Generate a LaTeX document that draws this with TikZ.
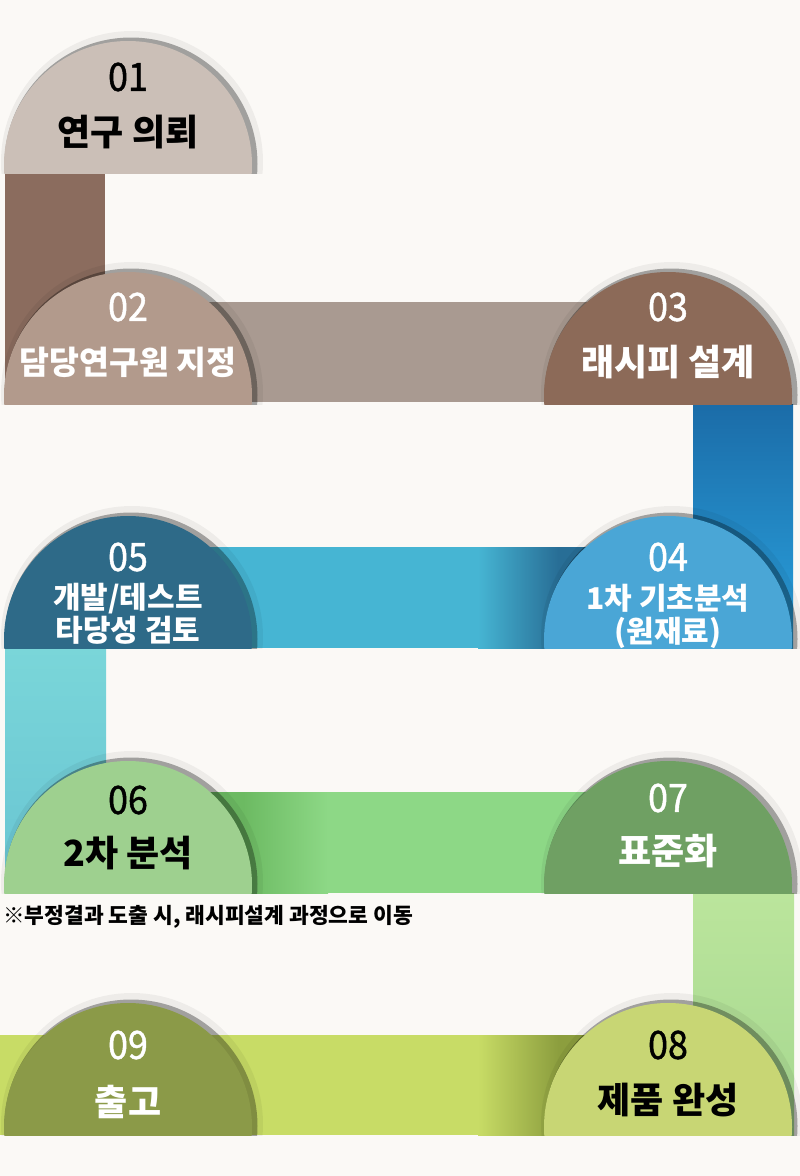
\documentclass[tikz,border=0pt]{standalone}
\usepackage{fontspec}
\setmainfont{Noto Sans CJK KR}
\newfontfamily\numfont[FakeBold=1.2,FakeStretch=0.92]{Noto Sans CJK KR}
\usetikzlibrary{calc}

\definecolor{paper}{RGB}{251,249,246}
\definecolor{domeA}{RGB}{203,191,183}
\definecolor{domeB}{RGB}{178,154,140}
\definecolor{domeC}{RGB}{140,106,88}
\definecolor{domeD}{RGB}{74,166,214}
\definecolor{domeE}{RGB}{46,106,136}
\definecolor{domeF}{RGB}{158,208,143}
\definecolor{domeG}{RGB}{111,160,99}
\definecolor{domeH}{RGB}{200,214,116}
\definecolor{domeI}{RGB}{139,154,72}
\definecolor{barA}{RGB}{139,108,94}
\definecolor{barB}{RGB}{169,154,145}
\definecolor{barCt}{RGB}{27,108,168}
\definecolor{barCb}{RGB}{42,162,222}
\definecolor{barD}{RGB}{70,181,211}
\definecolor{barDd}{RGB}{40,110,150}
\definecolor{barEt}{RGB}{122,214,217}
\definecolor{barEb}{RGB}{104,196,210}
\definecolor{barF}{RGB}{141,216,134}
\definecolor{barFd}{RGB}{108,186,98}
\definecolor{barGt}{RGB}{187,229,156}
\definecolor{barGb}{RGB}{165,215,143}
\definecolor{barH}{RGB}{200,220,102}
\definecolor{barHd}{RGB}{140,158,62}

% 반원 + 그림자
\newcommand{\dome}[2]{%
  \begin{scope}
    \clip ($(#1)+(-140,0)$) rectangle ($(#1)+(140,-160)$);
    \fill[black, opacity=.05] ($(#1)+(4,-11)$) circle (131);
    \fill[black, opacity=.32] ($(#1)+(3,-9)$) circle (126.5);
    \fill[#2] ($(#1)+(0,-8)$) circle (124);
  \end{scope}}

\begin{document}
\begin{tikzpicture}[x=1pt,y=-1pt,
  num/.style={font=\numfont\fontsize{39}{39}\selectfont, inner sep=0pt},
  lab/.style={font=\bfseries\fontsize{36}{36}\selectfont, inner sep=0pt},
  labsmall/.style={font=\bfseries\fontsize{30}{33}\selectfont, align=center, inner sep=0pt},
  memo/.style={font=\bfseries\fontsize{21.5}{22}\selectfont, inner sep=0pt, anchor=west}]

  \fill[paper] (0,0) rectangle (800,1176);
  \useasboundingbox (0,0) rectangle (800,1176);

  % 반원 밑변 중심
  \coordinate (d1) at (128,173);
  \coordinate (d2) at (128,404);
  \coordinate (d3) at (668,404);
  \coordinate (d4) at (668,648);
  \coordinate (d5) at (128,648);
  \coordinate (d6) at (128,893);
  \coordinate (d7) at (668,893);
  \coordinate (d8) at (668,1135);
  \coordinate (d9) at (128,1135);

  % 연결 띠
  \fill[barA] ($(d1)+(-123,0)$) rectangle ($(d2)+(-23,0)$);
  \fill[barB] ($(d2)+(0,-2)$) rectangle ($(d3)+(0,-102)$);
  \shade[top color=barCt, bottom color=barCb]
    ($(d3)+(25,0)$) rectangle ($(d4)+(125,0)$);
  \fill[barD] (d5) rectangle ($(d4)+(0,-101)$);
  \shade[left color=barD, right color=barDd]
    ($(d4)+(-190,0)$) rectangle ($(d4)+(-110,-101)$);
  \fill[barDd] ($(d4)+(-110,0)$) rectangle ($(d4)+(0,-101)$);
  \shade[top color=barEt, bottom color=barEb]
    ($(d5)+(-123,0)$) rectangle ($(d6)+(-22,0)$);
  \fill[barF] (d6) rectangle ($(d7)+(0,-101)$);
  \fill[barFd] (d6) rectangle ($(d6)+(115,-101)$);
  \shade[left color=barFd, right color=barF]
    ($(d6)+(115,0)$) rectangle ($(d6)+(200,-101)$);
  \shade[top color=barGt, bottom color=barGb]
    ($(d7)+(25,0)$) rectangle ($(d8)+(126,0)$);
  \fill[barH] ($(d9)+(-128,0)$) rectangle ($(d8)+(0,-100)$);
  \shade[left color=barH, right color=barHd]
    ($(d8)+(-190,0)$) rectangle ($(d8)+(-110,-100)$);
  \fill[barHd] ($(d8)+(-110,0)$) rectangle ($(d8)+(0,-100)$);

  % 단계
  \dome{d1}{domeA}
  \dome{d2}{domeB}
  \dome{d3}{domeC}
  \dome{d4}{domeD}
  \dome{d5}{domeE}
  \dome{d6}{domeF}
  \dome{d7}{domeG}
  \dome{d8}{domeH}
  \dome{d9}{domeI}

  \node[num, text=black] (n1) at ($(d1)+(0,-96)$) {01};
  \node[lab, text=black] (t1) at ($(d1)+(0,-41)$) {연구 의뢰};
  \node[num, text=white] (n2) at ($(d2)+(0,-97)$) {02};
  \node[lab, text=white, font=\bfseries\fontsize{32.5}{33}\selectfont] (t2) at ($(d2)+(0,-42)$) {담당연구원 지정};
  \node[num, text=white] (n3) at ($(d3)+(0,-97)$) {03};
  \node[lab, text=white] (t3) at ($(d3)+(0,-42)$) {래시피 설계};
  \node[num, text=white] (n4) at ($(d4)+(0,-91)$) {04};
  \node[labsmall, text=white] (t4) at ($(d4)+(0,-32)$) {1차 기초분석\\(원재료)};
  \node[num, text=white] (n5) at ($(d5)+(0,-91)$) {05};
  \node[labsmall, text=white] (t5) at ($(d5)+(0,-34)$) {개발/테스트\\타당성 검토};
  \node[num, text=black] (n6) at ($(d6)+(0,-93)$) {06};
  \node[lab, text=black] (t6) at ($(d6)+(0,-40)$) {2차 분석};
  \node[num, text=white] (n7) at ($(d7)+(0,-95)$) {07};
  \node[lab, text=white] (t7) at ($(d7)+(0,-42)$) {표준화};
  \node[num, text=black] (n8) at ($(d8)+(0,-90)$) {08};
  \node[lab, text=black] (t8) at ($(d8)+(0,-35)$) {제품 완성};
  \node[num, text=white] (n9) at ($(d9)+(0,-90)$) {09};
  \node[lab, text=white] (t9) at ($(d9)+(0,-33)$) {출고};

  % 안내 문구
  \node[memo] (note) at (3,917) {※부정결과 도출 시, 래시피설계 과정으로 이동};
\end{tikzpicture}
\end{document}
